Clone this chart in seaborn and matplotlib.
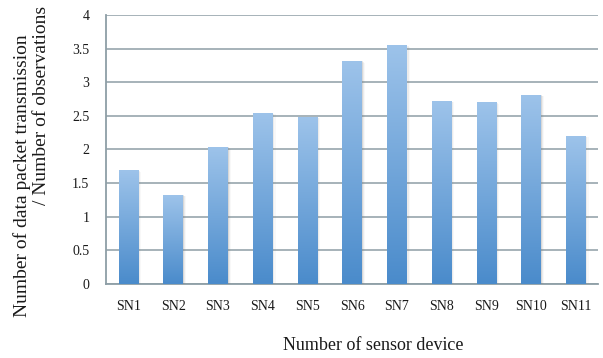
import numpy as np
import pandas as pd
import matplotlib
matplotlib.use("Agg")
import matplotlib.pyplot as plt
from matplotlib.colors import LinearSegmentedColormap
from matplotlib.patches import Rectangle
import seaborn as sns

devices = ["SN1", "SN2", "SN3", "SN4", "SN5", "SN6", "SN7", "SN8", "SN9", "SN10", "SN11"]
ratio = [1.69, 1.32, 2.03, 2.54, 2.48, 3.31, 3.55, 2.72, 2.70, 2.81, 2.20]
y_ticks = [0, 0.5, 1, 1.5, 2, 2.5, 3, 3.5, 4]
y_tick_labels = ["0", "0.5", "1", "1.5", "2", "2.5", "3", "3.5", "4"]

df = pd.DataFrame({"device": devices, "ratio": ratio})

sns.set_theme(style="white")
plt.rcParams["font.family"] = ["Liberation Serif", "DejaVu Serif"]

axis_grey = "#8E9EA6"
text_col = "#1A1A1A"
fig = plt.figure(figsize=(6.03, 3.58), dpi=100)
ax = fig.add_axes([0.1758, 0.2075, 0.8159, 0.7505])

sns.barplot(data=df, x="device", y="ratio", ax=ax, width=0.43,
            color="#4A8BCB", saturation=1, zorder=3)

ax.set_ylim(0, 4)
ax.set_xlim(-0.5, len(devices) - 0.5)

# vertical gradient fill clipped to each bar, with a soft shadow on the right
grad = LinearSegmentedColormap.from_list("bar", ["#4A8BCB", "#9DC3EA"])
gradient = np.linspace(0, 1, 256).reshape(-1, 1)
for bar in list(ax.patches):
    x0, w, h = bar.get_x(), bar.get_width(), bar.get_height()
    for k, a in enumerate([0.18, 0.10, 0.05]):
        ax.add_patch(Rectangle((x0 + w, 0), 0.025 * (k + 1), h - 0.01 * k,
                               facecolor="#7F7F7F", alpha=a, edgecolor="none", zorder=2.9))
    im = ax.imshow(gradient, cmap=grad, aspect="auto", origin="lower",
                   extent=(x0, x0 + w, 0, h), zorder=3.5)
    im.set_clip_path(bar)
    bar.set_edgecolor("none")

ax.set_xlim(-0.5, len(devices) - 0.5)
ax.set_ylim(0, 4)

ax.set_yticks(y_ticks)
ax.set_yticklabels(y_tick_labels, fontsize=10, color=text_col)
ax.yaxis.grid(True, color=axis_grey, linewidth=1.1, zorder=1)
ax.set_axisbelow(True)

# category boundary ticks on the x axis
ax.set_xticks(np.arange(len(devices)))
ax.set_xticklabels(devices, fontsize=10, color=text_col)
ax.set_xticks(np.arange(-0.5, len(devices)), minor=True)
ax.tick_params(axis="x", which="major", length=0, pad=12)
ax.tick_params(axis="x", which="minor", length=4, width=1.1, color=axis_grey, direction="out")
ax.tick_params(axis="y", length=4, width=1.1, color=axis_grey, direction="out", pad=8)

for side in ["top", "right"]:
    ax.spines[side].set_visible(False)
for side in ["left", "bottom"]:
    ax.spines[side].set_color(axis_grey)
    ax.spines[side].set_linewidth(1.3)

ax.set_xlabel("")
ax.set_ylabel("")
fig.text(373 / 603, 1 - 345 / 358, "Number of sensor device", fontsize=13,
         color=text_col, ha="center", va="center")
fig.text(22 / 603, 1 - 176 / 358, "Number of data packet transmission", fontsize=14,
         color=text_col, ha="center", va="center", rotation=90)
fig.text(42 / 603, 1 - 105 / 358, "/ Number of observations", fontsize=14,
         color=text_col, ha="center", va="center", rotation=90)

fig.savefig("out.png", dpi=100)
